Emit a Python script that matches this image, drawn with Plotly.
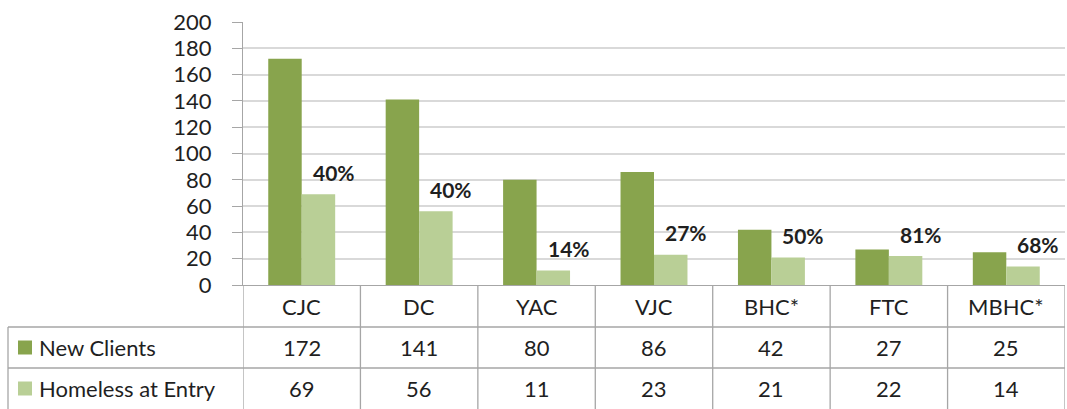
import plotly.graph_objects as go

categories = ["CJC", "DC", "YAC", "VJC", "BHC*", "FTC", "MBHC*"]
new_clients = [172, 141, 80, 86, 42, 27, 25]
homeless = [69, 56, 11, 23, 21, 22, 14]
pct_labels = ["40%", "40%", "14%", "27%", "50%", "81%", "68%"]
series_names = ["New Clients", "Homeless at Entry"]
y_ticks = list(range(0, 201, 20))

DARK = "#88A44D"
LIGHT = "#B9CF96"
GRID = "#D9D9D9"
LINE = "#A6A6A6"
TXT = "#1F1F1F"
FONT = "Lato"
FS = 22

W, H = 1067, 409
ML, MR, MT, MB = 243, 2, 22, 124
PH = H - MT - MB
PW = W - ML - MR


def py(pix):
    return (H - MB - pix) / PH


def px(pix):
    return (pix - ML) / PW


fig = go.Figure()
fig.add_trace(go.Bar(x=categories, y=new_clients, name=series_names[0],
                     marker=dict(color=DARK, line=dict(width=0))))
fig.add_trace(go.Bar(x=categories, y=homeless, name=series_names[1],
                     marker=dict(color=LIGHT, line=dict(width=0))))

annotations = []
for i, c in enumerate(categories):
    annotations.append(dict(x=c, y=homeless[i], xref="x", yref="y", text=f"<b>{pct_labels[i]}</b>",
                            showarrow=False, xshift=32, yshift=22,
                            xanchor="center", yanchor="middle",
                            font=dict(family=FONT, size=21, color=TXT)))
    annotations.append(dict(x=c, y=py(306), xref="x", yref="paper", text=c, showarrow=False,
                            xanchor="center", yanchor="middle",
                            font=dict(family=FONT, size=FS, color=TXT)))
    annotations.append(dict(x=c, y=py(347.5), xref="x", yref="paper", text=str(new_clients[i]),
                            showarrow=False, xanchor="center", yanchor="middle",
                            font=dict(family=FONT, size=FS, color=TXT)))
    annotations.append(dict(x=c, y=py(388.5), xref="x", yref="paper", text=str(homeless[i]),
                            showarrow=False, xanchor="center", yanchor="middle",
                            font=dict(family=FONT, size=FS, color=TXT)))

row_y = [347.5, 388.5]
colors = [DARK, LIGHT]
shapes = []
for name, ry, col in zip(series_names, row_y, colors):
    annotations.append(dict(x=px(37), y=py(ry), xref="paper", yref="paper", text=name,
                            xanchor="left", yanchor="middle", showarrow=False,
                            font=dict(family=FONT, size=FS, color=TXT)))
    shapes.append(dict(type="rect", xref="paper", yref="paper",
                       x0=px(18), x1=px(32), y0=py(ry - 7), y1=py(ry + 7),
                       fillcolor=col, line=dict(width=0)))

# table lines
for ypix in [327, 368]:
    shapes.append(dict(type="line", xref="paper", yref="paper", x0=px(8), x1=1,
                       y0=py(ypix), y1=py(ypix), line=dict(color=LINE, width=1.3)))
shapes.append(dict(type="line", xref="paper", yref="paper", x0=px(8), x1=px(8),
                   y0=py(327), y1=py(409), line=dict(color=LINE, width=1.3)))
for k in range(len(categories) + 1):
    shapes.append(dict(type="line", xref="x", yref="paper", x0=k - 0.5, x1=k - 0.5,
                       y0=0, y1=py(409), line=dict(color=LINE, width=1.3)))

fig.update_layout(
    width=W, height=H,
    margin=dict(l=ML, r=MR, t=MT, b=MB),
    paper_bgcolor="white", plot_bgcolor="white",
    barmode="group", bargap=0.43, bargroupgap=0,
    showlegend=False,
    annotations=annotations, shapes=shapes,
    font=dict(family=FONT, color=TXT),
)
fig.update_xaxes(type="category", showticklabels=False, showgrid=False, zeroline=False,
                 showline=True, linecolor=LINE, linewidth=1.3, ticks="",
                 range=[-0.5, len(categories) - 0.5])
fig.update_yaxes(range=[0, 200], tickvals=y_ticks, showgrid=True, gridcolor=GRID, gridwidth=1.5,
                 zeroline=False, showline=True, linecolor=LINE, linewidth=1.3,
                 ticks="outside", ticklen=10, tickcolor=LINE, tickwidth=1.3,
                 ticklabelstandoff=16,
                 tickfont=dict(family=FONT, size=FS, color=TXT))

fig.write_html("out.html", config={"displayModeBar": False},
               post_script="document.body.style.margin='0';document.body.style.overflow='hidden';")
